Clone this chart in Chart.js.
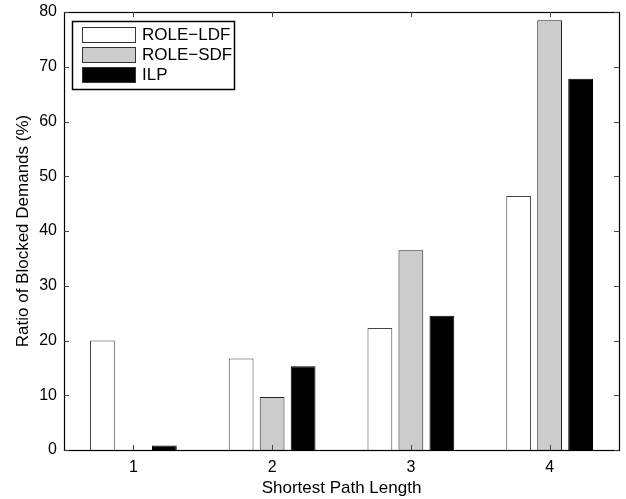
<!DOCTYPE html>
<html>
<head>
<meta charset="utf-8">
<script src="https://cdn.jsdelivr.net/npm/chart.js@4"></script>
<style>
  body { margin: 0; background: #fff; }
  #wrap { width: 626px; height: 499px; }
</style>
</head>
<body>
<div id="wrap"><canvas id="blockedChart" width="626" height="499"></canvas></div>
<script>
// Ratio of blocked demands per shortest path length
const categories = ['1', '2', '3', '4'];
const roleLdf = [20.0, 16.7, 22.3, 46.4];
const roleSdf = [0, 9.7, 36.5, 78.5];
const ilp = [0.8, 15.3, 24.5, 67.8];
const yTicks = [0, 10, 20, 30, 40, 50, 60, 70, 80];

const FONT = '"Liberation Sans", Arial, sans-serif';

// frame, inward ticks on all four sides, and the legend box inside the plot
const matlabAxes = {
    id: 'matlabAxes',
    afterDraw(chart) {
        const c = chart.ctx;
        const a = chart.chartArea;
        const xs = chart.scales.x, ys = chart.scales.y;
        c.save();
        c.strokeStyle = '#000';
        c.lineWidth = 1.2;
        c.strokeRect(Math.round(a.left) + 0.5, Math.round(a.top) + 0.5,
                     Math.round(a.right - a.left), Math.round(a.bottom - a.top));
        c.strokeStyle = '#444';
        c.lineWidth = 1;
        c.beginPath();
        ys.ticks.forEach((t, i) => {
            const y = Math.round(ys.getPixelForTick(i)) + 0.5;
            c.moveTo(a.left, y); c.lineTo(a.left + 5, y);
            c.moveTo(a.right - 5, y); c.lineTo(a.right, y);
        });
        xs.ticks.forEach((t, i) => {
            const x = Math.round(xs.getPixelForTick(i)) + 0.5;
            c.moveTo(x, a.bottom); c.lineTo(x, a.bottom - 5);
            c.moveTo(x, a.top); c.lineTo(x, a.top + 5);
        });
        c.stroke();

        // legend
        const lx = a.left + 8, ly = a.top + 9, lw = 162, lh = 68;
        c.fillStyle = '#fff';
        c.fillRect(lx, ly, lw, lh);
        c.strokeStyle = '#000';
        c.lineWidth = 1.5;
        c.strokeRect(lx + 0.5, ly + 0.5, lw, lh);
        c.lineWidth = 1;
        c.font = '17px ' + FONT;
        c.textBaseline = 'middle';
        chart.data.datasets.forEach((ds, i) => {
            const sy = ly + 6 + i * 20;
            c.fillStyle = ds.backgroundColor;
            c.fillRect(lx + 10, sy, 53, 15);
            c.strokeStyle = '#333';
            c.strokeRect(lx + 10.5, sy + 0.5, 53, 15);
            c.fillStyle = '#000';
            c.fillText(ds.label, lx + 70, sy + 8);
        });
        c.restore();
    }
};

new Chart(document.getElementById('blockedChart').getContext('2d'), {
    type: 'bar',
    data: {
        labels: categories,
        datasets: [
            { label: 'ROLE\u2212LDF', data: roleLdf, backgroundColor: '#ffffff', borderColor: '#444', borderWidth: 1 },
            { label: 'ROLE\u2212SDF', data: roleSdf, backgroundColor: '#cccccc', borderColor: '#222', borderWidth: 1 },
            { label: 'ILP', data: ilp, backgroundColor: '#000000', borderColor: '#000', borderWidth: 1 }
        ]
    },
    options: {
        responsive: false,
        animation: false,
        layout: { padding: { top: 12, right: 7, left: 0, bottom: 0 } },
        datasets: { bar: { categoryPercentage: 0.67, barPercentage: 0.8 } },
        plugins: {
            legend: { display: false },
            tooltip: { enabled: false }
        },
        scales: {
            x: {
                grid: { display: false },
                border: { display: false },
                ticks: { color: '#000', font: { family: FONT, size: 16 }, padding: 0 },
                title: { display: true, text: 'Shortest Path Length', color: '#000',
                         font: { family: FONT, size: 17 }, padding: { top: 0, bottom: 0 } },
                afterFit(s) { s.height = 49; s.paddingLeft = 0; s.paddingRight = 0; }
            },
            y: {
                min: 0, max: 80,
                afterBuildTicks(s) { s.ticks = yTicks.map(v => ({ value: v })); },
                grid: { display: false },
                border: { display: false },
                ticks: { color: '#000', font: { family: FONT, size: 16 }, padding: -1 },
                title: { display: true, text: 'Ratio of Blocked Demands (%)', color: '#000',
                         font: { family: FONT, size: 17 }, padding: { top: 13, bottom: 0 } },
                afterFit(s) { s.width = 64; s.paddingTop = 0; s.paddingBottom = 0; }
            }
        }
    },
    plugins: [matlabAxes]
});
</script>
</body>
</html>
